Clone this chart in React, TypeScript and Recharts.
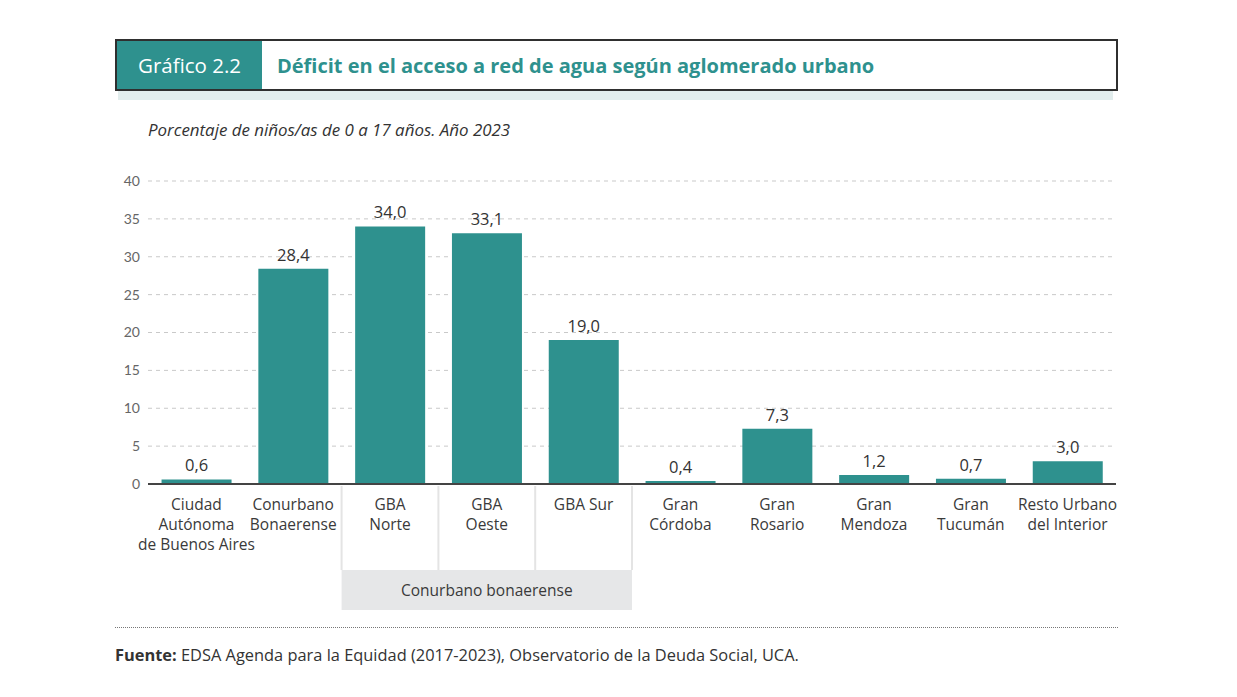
import React from 'react';
import { BarChart, Bar, XAxis, YAxis, CartesianGrid, LabelList } from 'recharts';

const categories = [
  'Ciudad\nAutónoma\nde Buenos Aires',
  'Conurbano\nBonaerense',
  'GBA\nNorte',
  'GBA\nOeste',
  'GBA Sur',
  'Gran\nCórdoba',
  'Gran\nRosario',
  'Gran\nMendoza',
  'Gran\nTucumán',
  'Resto Urbano\ndel Interior',
];
const values = [0.6, 28.4, 34.0, 33.1, 19.0, 0.4, 7.3, 1.2, 0.7, 3.0];
const yTicks = [0, 5, 10, 15, 20, 25, 30, 35, 40];
const groupLabel = 'Conurbano bonaerense';
const groupStart = 2;
const groupCount = 3;

const data = categories.map((c, i) => ({ name: c, value: values[i] }));

const TEAL = '#2e918e';
const FONT = '"Open Sans", "Noto Sans", sans-serif';
const FONT2 = 'Lato, "Noto Sans", sans-serif';

const CHART_W = 1237;
const CHART_H = 697;
const MARGIN = { top: 181, right: 121, bottom: 83, left: 108 };
const Y_W = 40;
const BAND = (CHART_W - MARGIN.left - MARGIN.right - Y_W) / categories.length;

const XTick = (props: any) => {
  const { x, y, payload, index } = props;
  const lines = String(payload.value).split('\n');
  const top = y;
  let group: React.ReactNode = null;
  if (index === groupStart) {
    const left = x - BAND / 2;
    const w = BAND * groupCount;
    group = (
      <g>
        <rect x={left} y={top + 2} width={w} height={124} fill="#ffffff" stroke="none" />
        {Array.from({ length: groupCount + 1 }).map((_, k) => (
          <line key={k} x1={left + k * BAND} x2={left + k * BAND} y1={top + 2} y2={top + 86} stroke="#e4e4e4" strokeWidth={2} />
        ))}
        <rect x={left} y={top + 86} width={w} height={40} fill="#e6e7e8" />
        <text x={left + w / 2} y={top + 112} textAnchor="middle" fontSize={15.5} fill="#3a3a3a" fontFamily={FONT}>
          {groupLabel}
        </text>
      </g>
    );
  }
  return (
    <g>
      {group}
      <text x={x} y={top + 26} textAnchor="middle" fontSize={15.5} fill="#3a3a3a" fontFamily={FONT}>
        {lines.map((l, i) => (
          <tspan key={i} x={x} dy={i === 0 ? 0 : 20}>
            {l}
          </tspan>
        ))}
      </text>
    </g>
  );
};

const fmt = (v: any) => Number(v).toFixed(1).replace('.', ',');

export default function App() {
  return (
    <div style={{ position: 'absolute', left: 0, top: 0, width: CHART_W, height: CHART_H, background: '#fff', fontFamily: FONT }}>
      {/* header */}
      <div style={{ position: 'absolute', left: 118, top: 91, width: 995, height: 9, background: '#e2eded' }} />
      <div style={{ position: 'absolute', left: 115, top: 39, width: 1003, height: 52, boxSizing: 'border-box', border: '2px solid #2f2f2f', background: '#fff', display: 'flex' }}>
        <div style={{ width: 145, height: '100%', background: TEAL, color: '#fff', fontSize: 20.5, display: 'flex', alignItems: 'center', paddingLeft: 21, boxSizing: 'border-box' }}>
          Gráfico 2.2
        </div>
        <div style={{ paddingLeft: 15, color: TEAL, fontWeight: 700, fontSize: 20, display: 'flex', alignItems: 'center' }}>
          Déficit en el acceso a red de agua según aglomerado urbano
        </div>
      </div>
      <div style={{ position: 'absolute', left: 148, top: 118, fontSize: 16.9, fontStyle: 'italic', color: '#333' }}>
        Porcentaje de niños/as de 0 a 17 años. Año 2023
      </div>
      <div style={{ position: 'absolute', left: 0, top: 0 }}>
        <BarChart width={CHART_W} height={CHART_H} data={data} margin={MARGIN} barCategoryGap="14%">
          <CartesianGrid vertical={false} stroke="#c9c9c9" strokeDasharray="4 4" />
          <YAxis
            width={Y_W}
            domain={[0, 40]}
            ticks={yTicks}
            axisLine={false}
            tickLine={false}
            tickSize={0}
            tickMargin={8}
            tick={{ fontSize: 14, fill: '#666', fontFamily: FONT2 }}
          />
          <XAxis
            dataKey="name"
            height={130}
            interval={0}
            axisLine={{ stroke: '#444', strokeWidth: 2 }}
            tickLine={false}
            tickSize={0}
            tickMargin={0}
            tick={<XTick />}
          />
          <Bar dataKey="value" fill={TEAL} isAnimationActive={false}>
            <LabelList dataKey="value" position="top" offset={8} formatter={fmt} style={{ fontSize: 16.5, fill: '#333', fontFamily: FONT }} />
          </Bar>
        </BarChart>
      </div>
      {/* footer */}
      <div style={{ position: 'absolute', left: 115, top: 627, width: 1003, borderTop: '1px dotted #777' }} />
      <div style={{ position: 'absolute', left: 115, top: 643, fontSize: 16.4, color: '#333' }}>
        <b>Fuente:</b> EDSA Agenda para la Equidad (2017-2023), Observatorio de la Deuda Social, UCA.
      </div>
    </div>
  );
}
